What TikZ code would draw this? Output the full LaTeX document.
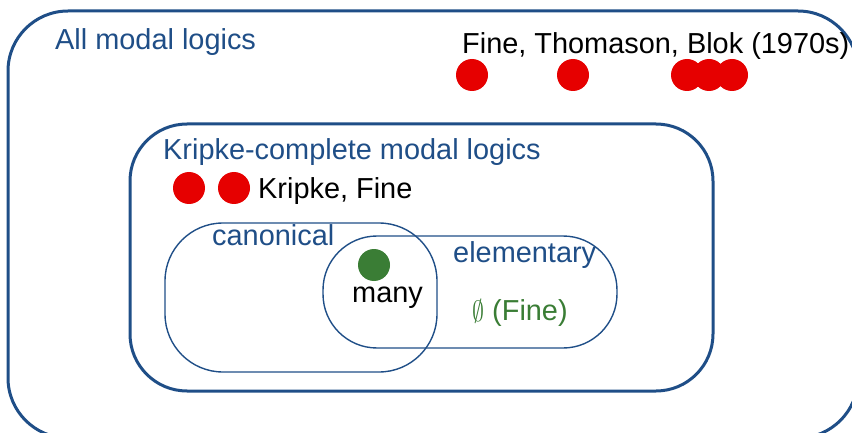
\documentclass[tikz,border=0pt]{standalone}
\usepackage{graphicx}
\usepackage{fontspec}
\setmainfont{Liberation Sans}
\definecolor{setblue}{RGB}{31,78,135}
\definecolor{dotred}{RGB}{230,0,0}
\definecolor{dotgreen}{RGB}{58,125,53}
\tikzset{
  setbox/.style={draw=setblue, line width=3pt, rounded corners=#1},
  subbox/.style={draw=setblue, line width=1.4pt, rounded corners=#1},
  lbl/.style={anchor=base west, inner sep=0pt, font=\fontsize{28.9}{34}\selectfont},
  bluelbl/.style={lbl, text=setblue},
  reddot/.style={circle, fill=dotred, minimum size=32pt, inner sep=0pt},
  greendot/.style={circle, fill=dotgreen, minimum size=32pt, inner sep=0pt},
}
\begin{document}
\begin{tikzpicture}[x=1pt,y=-1pt]
\useasboundingbox (0,0) rectangle (852,433);
\clip (0,0) rectangle (852,433);
% sets
\draw[setbox=60] (8,11) rectangle (858,438);
\draw[setbox=57] (130,124) rectangle (713,391);
\draw[subbox=58] (165,223) rectangle (437,372);
\draw[subbox=54] (323,236) rectangle (617,348);
% labels
\node[bluelbl] (all) at (55,50) {All modal logics};
\node[lbl] (ftb) at (462,54) {Fine, Thomason, Blok (1970s)};
\node[reddot] (r1) at (472,75) {};
\node[reddot] (r2) at (573,75) {};
\node[reddot] (r3) at (687,75) {};
\node[reddot] (r4) at (709,75) {};
\node[reddot] (r5) at (732,75) {};
\node[bluelbl] (kc) at (163,160) {Kripke-complete modal logics};
\node[reddot] (k1) at (189,188) {};
\node[reddot] (k2) at (234,188) {};
\node[lbl] (kf) at (258,198) {Kripke, Fine};
\node[bluelbl] (can) at (212,245) {canonical};
\node[greendot] (g) at (374,265) {};
\node[lbl] (many) at (352,302) {many};
\node[bluelbl] (elem) at (453,262) {elementary};
\node[lbl, text=dotgreen] (empty) at (472,320) {\raisebox{-1pt}{\resizebox{12pt}{22pt}{$\emptyset$}} (Fine)};
\end{tikzpicture}
\end{document}
